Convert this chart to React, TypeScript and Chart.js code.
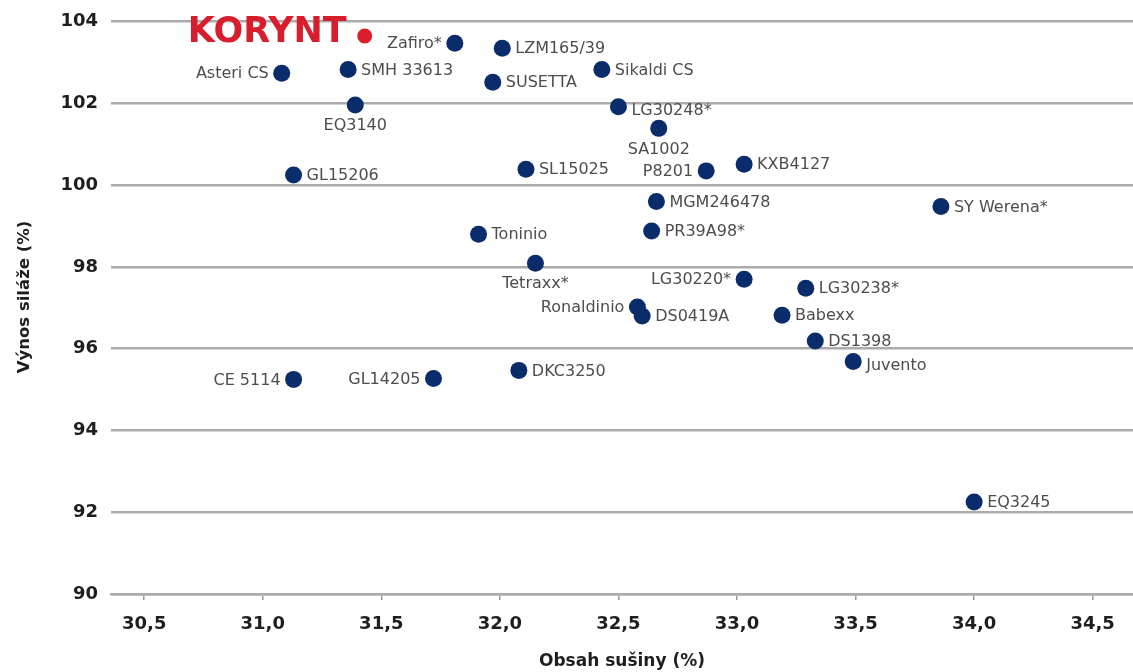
import React, { useEffect, useRef } from 'react';
import { Chart, registerables } from 'chart.js';

Chart.register(...registerables);

// ---- Data ----
const varieties: string[] = [
  'KORYNT', 'Asteri CS', 'SMH 33613', 'EQ3140', 'GL15206', 'Zafiro*', 'LZM165/39', 'SUSETTA',
  'Sikaldi CS', 'LG30248*', 'SA1002', 'SL15025', 'P8201', 'KXB4127', 'MGM246478', 'SY Werena*',
  'PR39A98*', 'Toninio', 'Tetraxx*', 'LG30220*', 'LG30238*', 'Ronaldinio', 'DS0419A', 'Babexx',
  'DS1398', 'Juvento', 'CE 5114', 'GL14205', 'DKC3250', 'EQ3245',
];
const drySubstance: number[] = [
  31.43, 31.08, 31.36, 31.39, 31.13, 31.81, 32.01, 31.97,
  32.43, 32.50, 32.67, 32.11, 32.87, 33.03, 32.66, 33.86,
  32.64, 31.91, 32.15, 33.03, 33.29, 32.58, 32.60, 33.19,
  33.33, 33.49, 31.13, 31.72, 32.08, 34.00,
];
const silageYield: number[] = [
  103.65, 102.74, 102.83, 101.96, 100.25, 103.47, 103.35, 102.52,
  102.83, 101.92, 101.39, 100.39, 100.35, 100.51, 99.60, 99.48,
  98.88, 98.80, 98.09, 97.70, 97.48, 97.02, 96.80, 96.82,
  96.19, 95.69, 95.25, 95.27, 95.47, 92.25,
];
// label placement: r = right, rb = right slightly lower, l = left, b = below
const labelSide: string[] = [
  'l', 'l', 'r', 'b', 'r', 'l', 'r', 'r',
  'r', 'rb', 'b', 'r', 'l', 'r', 'r', 'r',
  'r', 'r', 'b', 'l', 'r', 'l', 'r', 'r',
  'r', 'rb', 'l', 'l', 'r', 'r',
];
const highlighted = 'KORYNT';
const xTicks: number[] = [30.5, 31.0, 31.5, 32.0, 32.5, 33.0, 33.5, 34.0, 34.5];
const yTicks: number[] = [90, 92, 94, 96, 98, 100, 102, 104];
const xTitle = 'Obsah sušiny (%)';
const yTitle = 'Výnos siláže (%)';

const NAVY = '#0b2c6b';
const RED = '#d81e2c';
const LABEL_GREY = '#4d4d4d';
const GRID = '#ababab';

const pointLabelPlugin = {
  id: 'pointLabels',
  afterDatasetsDraw(chart: any) {
    const ctx = chart.ctx;
    const meta = chart.getDatasetMeta(0);
    meta.data.forEach((el: any, i: number) => {
      const name = varieties[i];
      const side = labelSide[i];
      ctx.save();
      ctx.textBaseline = 'middle';
      if (name === highlighted) {
        ctx.font = 'bold 35px "DejaVu Sans"';
        ctx.fillStyle = RED;
        ctx.textAlign = 'right';
        ctx.fillText(name, el.x - 18, el.y - 3);
      } else {
        ctx.font = '16px "DejaVu Sans"';
        ctx.fillStyle = LABEL_GREY;
        if (side === 'r' || side === 'rb') {
          ctx.textAlign = 'left';
          ctx.fillText(name, el.x + 13, el.y + (side === 'rb' ? 4 : 1));
        } else if (side === 'l') {
          ctx.textAlign = 'right';
          ctx.fillText(name, el.x - 13, el.y + 1);
        } else {
          ctx.textAlign = 'center';
          ctx.fillText(name, el.x, el.y + 21);
        }
      }
      ctx.restore();
    });
  },
};

export default function App() {
  const canvasRef = useRef<HTMLCanvasElement | null>(null);

  useEffect(() => {
    if (!canvasRef.current) return;
    const points = drySubstance.map((x, i) => ({ x, y: silageYield[i] }));
    const chart = new Chart(canvasRef.current, {
      type: 'scatter',
      data: {
        datasets: [
          {
            label: 'Odrůdy',
            data: points,
            pointBackgroundColor: varieties.map((v) => (v === highlighted ? RED : NAVY)),
            pointBorderWidth: 0,
            pointRadius: varieties.map((v) => (v === highlighted ? 7.5 : 8.5)),
            pointHoverRadius: varieties.map((v) => (v === highlighted ? 7.5 : 8.5)),
            clip: false,
          },
        ],
      },
      options: {
        animation: false,
        responsive: false,
        maintainAspectRatio: false,
        layout: { padding: 0, autoPadding: false },
        plugins: {
          legend: { display: false },
          tooltip: { enabled: false },
        },
        scales: {
          x: {
            type: 'linear',
            min: 30.36,
            max: 34.67,
            afterBuildTicks: (scale: any) => {
              scale.ticks = xTicks.map((v) => ({ value: v }));
            },
            afterFit: (scale: any) => {
              scale.height = 78;
              scale.paddingLeft = 0;
              scale.paddingRight = 0;
            },
            grid: {
              drawOnChartArea: false,
              drawTicks: true,
              tickLength: 6,
              color: '#9a9a9a',
              lineWidth: 1.5,
            },
            border: { display: true, color: GRID, width: 2.5 },
            ticks: {
              padding: 14,
              color: '#1e1e1e',
              font: { family: '"DejaVu Sans"', weight: 'bold', size: 18 },
              callback: (v: any) => Number(v).toFixed(1).replace('.', ','),
            },
            title: {
              display: true,
              text: xTitle,
              color: '#1e1e1e',
              font: { family: '"DejaVu Sans"', weight: 'bold', size: 17 },
              padding: { top: 0, bottom: 0 },
            },
          },
          y: {
            type: 'linear',
            min: 90,
            max: 104.53,
            afterBuildTicks: (scale: any) => {
              scale.ticks = yTicks.map((v) => ({ value: v }));
            },
            afterFit: (scale: any) => {
              scale.width = 111;
              scale.paddingTop = 0;
              scale.paddingBottom = 0;
            },
            grid: {
              drawTicks: false,
              color: GRID,
              lineWidth: 2.5,
            },
            border: { display: false },
            ticks: {
              padding: 13,
              color: '#1e1e1e',
              font: { family: '"DejaVu Sans"', weight: 'bold', size: 18 },
            },
            title: {
              display: true,
              text: yTitle,
              color: '#1e1e1e',
              font: { family: '"DejaVu Sans"', weight: 'bold', size: 16.5 },
              padding: { top: 15, bottom: 0 },
            },
          },
        },
      } as any,
      plugins: [pointLabelPlugin],
    });
    return () => chart.destroy();
  }, []);

  return (
    <div style={{ position: 'absolute', left: 0, top: 0, width: 1133, height: 672, background: '#fff' }}>
      <canvas ref={canvasRef} width={1133} height={672} style={{ width: 1133, height: 672 }} />
    </div>
  );
}
